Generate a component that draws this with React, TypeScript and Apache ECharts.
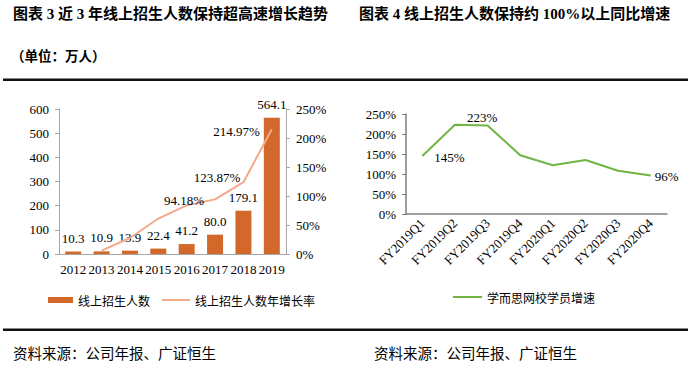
import React, { useEffect, useRef } from "react";
import * as echarts from "echarts";

const years = ["2012", "2013", "2014", "2015", "2016", "2017", "2018", "2019"];
const enrollment = [10.3, 10.9, 13.9, 22.4, 41.2, 80.0, 179.1, 564.1];
const growthRate = [null, 5.83, 27.52, 61.15, 83.93, 94.18, 123.87, 214.97];
const quarters = ["FY2019Q1", "FY2019Q2", "FY2019Q3", "FY2019Q4", "FY2020Q1", "FY2020Q2", "FY2020Q3", "FY2020Q4"];
const studentGrowth = [145, 223, 221, 147, 122, 135, 108, 96];

const leftTitle = "图表 3 近 3 年线上招生人数保持超高速增长趋势";
const unitText = "（单位：万人）";
const rightTitle = "图表 4 线上招生人数保持约 100%以上同比增速";
const sourceText = "资料来源：公司年报、广证恒生";
const barName = "线上招生人数";
const lineName = "线上招生人数年增长率";
const greenName = "学而思网校学员增速";

const SERIF = "'Times New Roman', 'Liberation Serif', serif";
const MIXED = "'Liberation Serif', 'Noto Sans CJK SC', serif";
const CJK = "'Noto Sans CJK SC', sans-serif";

const BAR_COLOR = "#D2692A";
const LINE_COLOR = "#F4A98A";
const GREEN = "#70B644";

export default function App() {
  const ref = useRef<HTMLDivElement>(null);
  useEffect(() => {
    if (!ref.current) return;
    const chart = echarts.init(ref.current, undefined, { renderer: "svg" });

    const labelText = { fontFamily: SERIF, fontSize: 13, color: "#000" };

    const growthLabelCfg: Record<number, any> = {
      5: { position: "left", distance: 11, offset: [0, 1] },
      6: { position: "left", distance: 3, offset: [0, -5] },
      7: { position: "left", distance: 12, offset: [0, 2] },
    };
    const growthData = growthRate.map((v, i) => {
      const cfg = growthLabelCfg[i];
      if (!cfg) return { value: v, label: { show: false } };
      return {
        value: v,
        label: {
          show: true,
          ...cfg,
          formatter: (p: any) => Number(p.value).toFixed(2) + "%",
          ...labelText,
        },
      };
    });

    const greenLabelCfg: Record<number, any> = {
      0: { position: "right", distance: 12, offset: [0, 1] },
      1: { position: "right", distance: 12, offset: [0, -7] },
      7: { position: "right", distance: 4, offset: [0, 1] },
    };
    const greenData = studentGrowth.map((v, i) => {
      const cfg = greenLabelCfg[i];
      if (!cfg) return { value: v, label: { show: false } };
      return {
        value: v,
        label: {
          show: true,
          ...cfg,
          formatter: (p: any) => p.value + "%",
          ...labelText,
        },
      };
    });

    const axisLabelBase = { fontFamily: SERIF, fontSize: 13, color: "#000" };
    const legendText = { fontFamily: CJK, fontSize: 12, color: "#000" };

    chart.setOption({
      animation: false,
      backgroundColor: "#fff",
      grid: [
        { left: 59, top: 109, width: 227, height: 145 },
        { left: 406, top: 114, width: 261, height: 100 },
      ],
      xAxis: [
        {
          type: "category",
          gridIndex: 0,
          data: years,
          axisLine: { lineStyle: { color: "#A6A6A6", width: 1 } },
          axisTick: { show: false },
          axisLabel: { ...axisLabelBase, margin: 9, interval: 0, hideOverlap: false },
        },
        {
          type: "category",
          gridIndex: 1,
          data: quarters,
          axisLine: { lineStyle: { color: "#7F7F7F", width: 1.5 } },
          axisTick: { show: false },
          axisLabel: { ...axisLabelBase, fontSize: 13, rotate: 45, margin: 7, interval: 0, hideOverlap: false },
        },
      ],
      yAxis: [
        {
          type: "value",
          gridIndex: 0,
          min: 0,
          max: 600,
          interval: 100,
          axisLine: { show: true, lineStyle: { color: "#A6A6A6" } },
          axisTick: { show: true, length: 4, lineStyle: { color: "#A6A6A6" } },
          splitLine: { show: false },
          axisLabel: { ...axisLabelBase, margin: 10 },
        },
        {
          type: "value",
          gridIndex: 0,
          position: "right",
          min: 0,
          max: 250,
          interval: 50,
          axisLine: { show: true, lineStyle: { color: "#A6A6A6" } },
          axisTick: { show: true, length: 4, lineStyle: { color: "#A6A6A6" } },
          splitLine: { show: false },
          axisLabel: { ...axisLabelBase, margin: 10, formatter: "{value}%" },
        },
        {
          type: "value",
          gridIndex: 1,
          min: 0,
          max: 250,
          interval: 50,
          axisLine: { show: true, lineStyle: { color: "#7F7F7F", width: 1.5 } },
          axisTick: { show: true, length: 4, lineStyle: { color: "#7F7F7F" } },
          splitLine: { show: false },
          axisLabel: { ...axisLabelBase, margin: 10, formatter: "{value}%" },
        },
      ],
      legend: [
        {
          left: 43,
          top: 289,
          itemWidth: 25,
          itemHeight: 6,
          itemGap: 10,
          textStyle: legendText,
          data: [{ name: barName, icon: "rect" }],
        },
        {
          left: 157,
          top: 289,
          itemWidth: 28,
          itemHeight: 2,
          textStyle: legendText,
          data: [{ name: lineName, icon: "rect" }],
        },
        {
          left: 448,
          top: 286,
          itemWidth: 29,
          itemHeight: 2,
          itemGap: 4,
          textStyle: legendText,
          data: [{ name: greenName, icon: "rect" }],
        },
      ],
      series: [
        {
          name: barName,
          type: "bar",
          xAxisIndex: 0,
          yAxisIndex: 0,
          data: enrollment,
          barWidth: 16,
          itemStyle: { color: BAR_COLOR },
          label: {
            show: true,
            position: "top",
            distance: 7,
            formatter: (p: any) => Number(p.value).toFixed(1),
            ...labelText,
          },
        },
        {
          name: lineName,
          type: "line",
          xAxisIndex: 0,
          yAxisIndex: 1,
          data: growthData,
          symbol: "circle",
          symbolSize: 0,
          showSymbol: true,
          lineStyle: { color: LINE_COLOR, width: 2 },
          itemStyle: { color: LINE_COLOR },
          z: 3,
        },
        {
          name: greenName,
          type: "line",
          xAxisIndex: 1,
          yAxisIndex: 2,
          data: greenData,
          symbol: "circle",
          symbolSize: 0,
          showSymbol: true,
          lineStyle: { color: GREEN, width: 2 },
          itemStyle: { color: GREEN },
        },
      ],
      graphic: [
        {
          type: "text",
          left: 13,
          top: 6,
          style: { text: leftTitle, fontFamily: MIXED, fontSize: 15, fontWeight: "bold", fill: "#000" },
        },
        {
          type: "text",
          left: 359,
          top: 6,
          style: { text: rightTitle, fontFamily: MIXED, fontSize: 15, fontWeight: "bold", fill: "#000" },
        },
        {
          type: "text",
          left: 11,
          top: 48,
          style: { text: unitText, fontFamily: CJK, fontSize: 13.5, fontWeight: "bold", fill: "#000" },
        },
        {
          type: "rect",
          shape: { x: 3, y: 78.5, width: 685, height: 2.5 },
          style: { fill: "#111" },
        },
        {
          type: "rect",
          shape: { x: 3, y: 328.5, width: 685, height: 2.5 },
          style: { fill: "#111" },
        },
        {
          type: "text",
          left: 13,
          top: 345,
          style: { text: sourceText, fontFamily: CJK, fontSize: 14.5, fill: "#000" },
        },
        {
          type: "text",
          left: 374,
          top: 345,
          style: { text: sourceText, fontFamily: CJK, fontSize: 14.5, fill: "#000" },
        },
      ],
    });
    return () => chart.dispose();
  }, []);
  return (
    <div
      ref={ref}
      style={{ position: "absolute", left: 0, top: 0, width: 700, height: 371 }}
    />
  );
}
